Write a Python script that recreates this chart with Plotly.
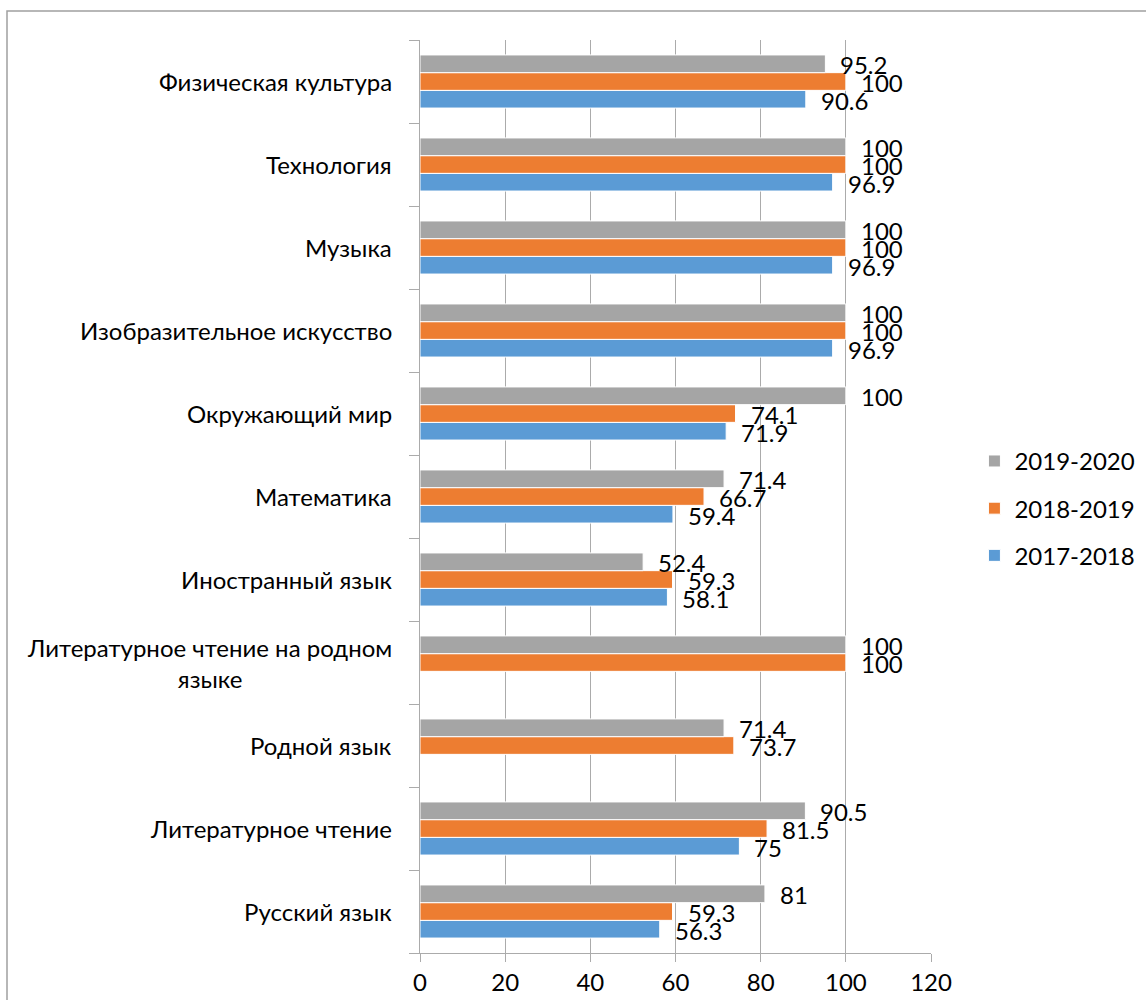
import plotly.graph_objects as go

categories = [
    "Русский язык",
    "Литературное чтение",
    "Родной язык",
    "Литературное чтение на родном<br>языке",
    "Иностранный язык",
    "Математика",
    "Окружающий мир",
    "Изобразительное искусство",
    "Музыка",
    "Технология",
    "Физическая культура",
]
series_names = ["2017-2018", "2018-2019", "2019-2020"]
v_2017 = [56.3, 75, None, None, 58.1, 59.4, 71.9, 96.9, 96.9, 96.9, 90.6]
v_2018 = [59.3, 81.5, 73.7, 100, 59.3, 66.7, 74.1, 100, 100, 100, 100]
v_2019 = [81, 90.5, 71.4, 100, 52.4, 71.4, 100, 100, 100, 100, 95.2]
x_ticks = [0, 20, 40, 60, 80, 100, 120]

colors = ["#5B9BD5", "#ED7D31", "#A5A5A5"]
FONT = "Lato"
FS = 24

W, H = 1146, 1000
L, R, T, B = 420, 1146 - 931, 40, 1000 - 953
plot_w = W - L - R
plot_h = H - T - B
bargap = 0.36

fig = go.Figure()
all_vals = [v_2017, v_2018, v_2019]
for i, (name, vals) in enumerate(zip(series_names, all_vals)):
    fig.add_trace(go.Bar(
        y=categories, x=vals, name=name, orientation="h",
        marker=dict(color=colors[i], line=dict(color="white", width=1)),
        legendgroup=name, legendrank=3 - i,
    ))

pitch = plot_h / len(categories)
barh = pitch * (1 - bargap) / 3
annotations = []
for i, vals in enumerate(all_vals):
    for c, v in zip(categories, vals):
        if v is None:
            continue
        annotations.append(dict(
            x=v, y=c, xref="x", yref="y", text=f"{v:g}", showarrow=False,
            xanchor="left", yanchor="middle", xshift=13, yshift=(i - 1) * barh - 1,
            font=dict(family=FONT, size=FS, color="#000000"),
        ))
for c in categories:
    annotations.append(dict(
        x=0, y=c, xref="paper", yref="y", text=c, showarrow=False,
        xanchor="right", yanchor="middle", xshift=-26, align="center",
        font=dict(family=FONT, size=FS, color="#000000"),
    ))

fig.update_layout(
    width=W, height=H,
    margin=dict(l=L, r=R, t=T, b=B, autoexpand=False),
    paper_bgcolor="white", plot_bgcolor="white",
    barmode="group", bargap=bargap, bargroupgap=0,
    font=dict(family=FONT, size=FS, color="#000000"),
    xaxis=dict(
        range=[0, 120], tickvals=x_ticks, showgrid=True, gridcolor="#ABABAB",
        gridwidth=1, showline=True, linecolor="#ABABAB", ticks="outside",
        ticklen=8, tickcolor="#ABABAB", zeroline=False,
        tickfont=dict(family=FONT, size=FS, color="#000000"),
    ),
    yaxis=dict(
        categoryorder="array", categoryarray=categories,
        showticklabels=False, showline=True, linecolor="#ABABAB",
        ticks="outside", tickson="boundaries", ticklen=10, tickcolor="#ABABAB",
        showgrid=False, zeroline=False,
    ),
    legend=dict(
        x=1.085, y=0.487, xanchor="left", yanchor="middle",
        traceorder="grouped", tracegroupgap=13,
        font=dict(family=FONT, size=FS, color="#000000"),
        bgcolor="rgba(0,0,0,0)",
    ),
    annotations=annotations,
    shapes=[dict(
        type="rect", xref="paper", yref="paper", layer="below",
        x0=(7 - L) / plot_w, x1=(W + 10 - L) / plot_w,
        y0=-(H + 10 - T - plot_h) / plot_h, y1=1 + (T - 11) / plot_h,
        line=dict(color="#A0A0A0", width=1.5),
    )],
    showlegend=True,
)

fig.write_html("out.html", config={"displayModeBar": False},
               post_script="document.body.style.margin='0';")
